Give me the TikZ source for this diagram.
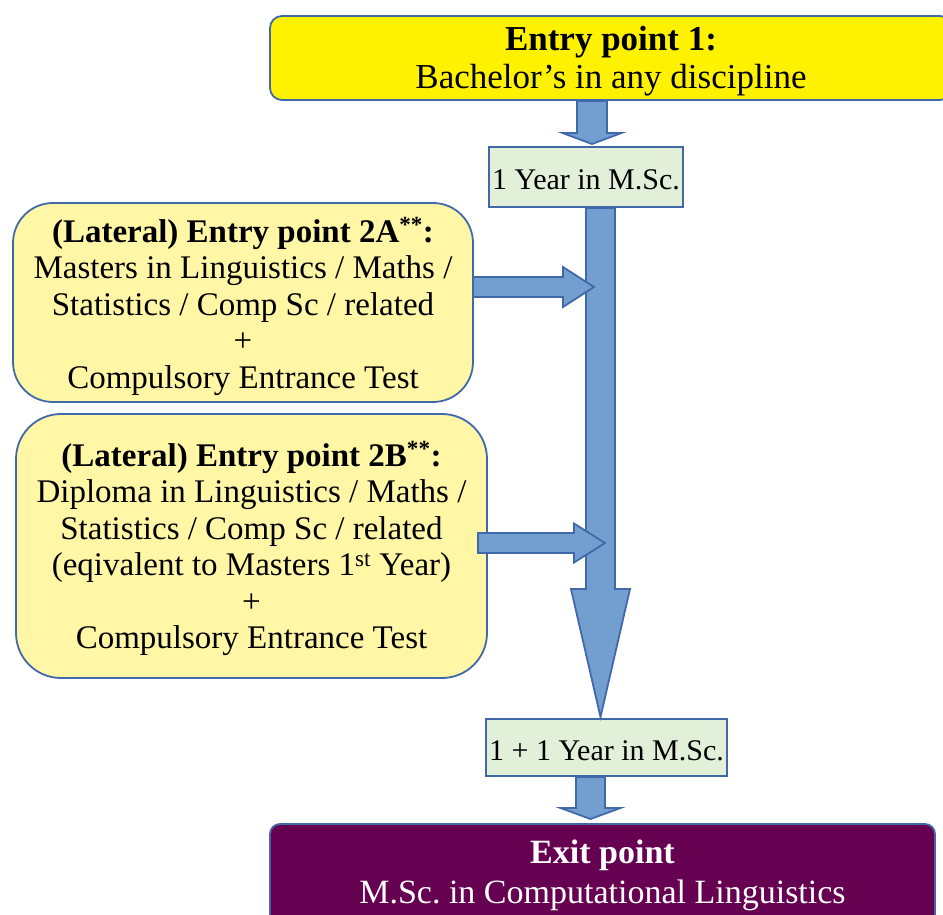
\documentclass[tikz,border=0pt]{standalone}
\usepackage{fontspec}
\setmainfont{Liberation Serif}
\usetikzlibrary{calc}

\definecolor{boxline}{RGB}{65,105,170}
\definecolor{arrowfill}{RGB}{114,159,207}
\definecolor{entryyellow}{RGB}{255,242,0}
\definecolor{lateralyellow}{RGB}{255,246,166}
\definecolor{yeargreen}{RGB}{226,239,217}
\definecolor{exitpurple}{RGB}{102,0,81}

\tikzset{
  box/.style={draw=boxline, line width=1.8pt, align=center, inner sep=0pt},
  entrybox/.style={box, fill=entryyellow, rounded corners=12pt,
    font=\fontsize{35}{38}\selectfont, text height=68pt, text depth=7pt},
  lateralbox/.style={box, fill=lateralyellow, font=\fontsize{33}{36.5}\selectfont},
  yearbox/.style={box, fill=yeargreen, font=\fontsize{30}{36}\selectfont,
    text height=25pt, text depth=0pt},
  exitbox/.style={box, fill=exitpurple, text=white, rounded corners=10pt,
    font=\fontsize{34}{40}\selectfont, text height=54pt, text depth=7pt},
  blockarrow/.style={draw=boxline, fill=arrowfill, line width=1.8pt}
}

\begin{document}
\begin{tikzpicture}[x=1pt, y=-1pt]
  \useasboundingbox (0,0) rectangle (943,915);

  % arrow pointing down: start, tip, half shaft, half head, head length
  \newcommand{\dnarrow}[5]{%
    \draw[blockarrow] let \p1=(#1), \p2=(#2) in
      (\x2-#3pt,\y1) -- (\x2-#3pt,\y2+#5pt) -- (\x2-#4pt,\y2+#5pt) -- (\p2)
      -- (\x2+#4pt,\y2+#5pt) -- (\x2+#3pt,\y2+#5pt) -- (\x2+#3pt,\y1) -- cycle;
  }
  % arrow pointing right
  \newcommand{\rtarrow}[5]{%
    \draw[blockarrow] let \p1=(#1), \p2=(#2) in
      (\x1,\y2+#3pt) -- (\x2-#5pt,\y2+#3pt) -- (\x2-#5pt,\y2+#4pt) -- (\p2)
      -- (\x2-#5pt,\y2-#4pt) -- (\x2-#5pt,\y2-#3pt) -- (\x1,\y2-#3pt) -- cycle;
  }

  \node[entrybox, minimum width=682pt, minimum height=84pt] (entry1) at (611,58)
    {\textbf{Entry point 1:}\\Bachelor's in any discipline};
  \node[yearbox, minimum width=194pt, minimum height=60pt] (yr1) at (586,177)
    {1 Year in M.Sc.};

  \node[lateralbox, rounded corners=40pt, minimum width=460pt, minimum height=199pt,
    text height=178pt, text depth=7pt] (lat-a) at (243,302.5)
    {\textbf{(Lateral) Entry point 2A\textsuperscript{**}:}\\
     Masters in Linguistics / Maths /\\
     Statistics / Comp Sc / related\\
     +\\
     Compulsory Entrance Test};
  \node[lateralbox, rounded corners=45pt, minimum width=471pt, minimum height=264pt,
    text height=212pt, text depth=7pt] (lat-b) at (251.5,546)
    {\textbf{(Lateral) Entry point 2B\textsuperscript{**}:}\\
     Diploma in Linguistics / Maths /\\
     Statistics / Comp Sc / related\\
     (eqivalent to Masters 1\textsuperscript{st} Year)\\
     +\\
     Compulsory Entrance Test};

  \node[yearbox, minimum width=241pt, minimum height=57pt] (yr2) at (606.5,747.5)
    {1 + 1 Year in M.Sc.};
  \node[exitbox, minimum width=665pt, minimum height=112pt] (exit) at (602.5,880)
    {\textbf{Exit point}\\M.Sc.\ in Computational Linguistics};

  \coordinate (tip-1) at (592,144);
  \coordinate (tip-m) at (600.5,717);
  \coordinate (tip-e) at (590.5,819);
  \coordinate (tip-a) at (594,287);
  \coordinate (tip-b) at (605,543);

  \dnarrow{entry1.south}{tip-1}{15}{29.5}{11}
  \dnarrow{yr1.south}{tip-m}{14.5}{29.5}{128}
  \dnarrow{yr2.south}{tip-e}{14.5}{30}{11}

  \foreach \from/\to/\hd/\dx in {lat-a/tip-a/20/-1, lat-b/tip-b/19.5/-10} {
    \rtarrow{$(\from.east)+(\dx,0)$}{\to}{10}{\hd}{31}
  }

\end{tikzpicture}
\end{document}
